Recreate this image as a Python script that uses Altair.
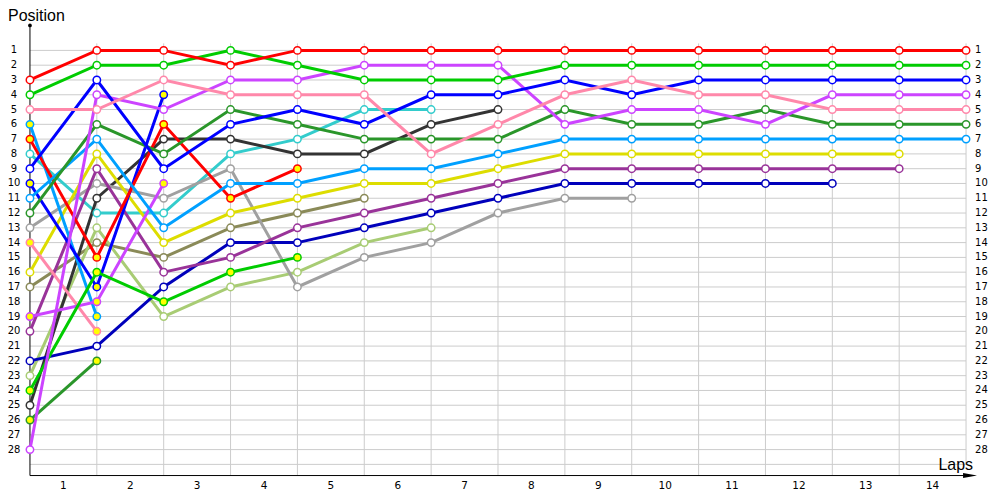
import altair as alt
import pandas as pd

# ---- data (positions from the start, lap 0, onwards) ----
lap_labels = [str(i) for i in range(1, 15)]
position_labels = list(range(1, 29))

red_a = [3, 1, 1, 2, 1, 1, 1, 1, 1, 1, 1, 1, 1, 1, 1]
green_a = [4, 2, 2, 1, 2, 3, 3, 3, 2, 2, 2, 2, 2, 2, 2]
pink_a = [5, 5, 3, 4, 4, 4, 8, 6, 4, 3, 4, 4, 5, 5, 5]
blue_a = [9, 3, 9, 6, 5, 6, 4, 4, 3, 4, 3, 3, 3, 3, 3]
magenta_a = [28, 4, 5, 3, 3, 2, 2, 2, 6, 5, 5, 6, 4, 4, 4]
darkgreen_a = [12, 6, 8, 5, 6, 7, 7, 7, 5, 6, 6, 5, 6, 6, 6]
lightblue_a = [11, 7, 13, 10, 10, 9, 9, 8, 7, 7, 7, 7, 7, 7, 7]
yellow_a = [16, 8, 14, 12, 11, 10, 10, 9, 8, 8, 8, 8, 8, 8]
purple_a = [20, 9, 16, 15, 13, 12, 11, 10, 9, 9, 9, 9, 9, 9]
navy_a = [22, 21, 17, 14, 14, 13, 12, 11, 10, 10, 10, 10, 10]
gray_a = [13, 10, 11, 9, 17, 15, 14, 12, 11, 11]
black_a = [25, 11, 7, 7, 8, 8, 6, 5]
teal_a = [8, 12, 12, 8, 7, 5, 5]
lightgreen_a = [23, 13, 19, 17, 16, 14, 13]
olive_a = [17, 14, 15, 13, 12, 11]
red_b = [7, 15, 6, 11, 9]
green_b = [24, 16, 18, 16, 15]
blue_b = [10, 17, 4]
magenta_b = [19, 18, 10]
lightblue_b = [6, 19]
pink_b = [14, 20]
darkgreen_b = [26, 22]

drivers = [
    ("olive_a", olive_a, "#8a8a58", "hollow"),
    ("lightgreen_a", lightgreen_a, "#a8cc74", "hollow"),
    ("teal_a", teal_a, "#33cccc", "hollow"),
    ("black_a", black_a, "#333333", "hollow"),
    ("gray_a", gray_a, "#a0a0a0", "hollow"),
    ("navy_a", navy_a, "#0000bb", "hollow"),
    ("purple_a", purple_a, "#993399", "hollow"),
    ("yellow_a", yellow_a, "#dddd00", "hollow"),
    ("darkgreen_b", darkgreen_b, "#2a962a", "yellow"),
    ("pink_b", pink_b, "#ff88aa", "yellow"),
    ("lightblue_b", lightblue_b, "#00a0ff", "yellow"),
    ("magenta_b", magenta_b, "#cc44ff", "yellow"),
    ("blue_b", blue_b, "#0000ff", "yellow"),
    ("green_b", green_b, "#00cc00", "yellow"),
    ("red_b", red_b, "#ff0000", "yellow"),
    ("lightblue_a", lightblue_a, "#00a0ff", "hollow"),
    ("darkgreen_a", darkgreen_a, "#2a962a", "hollow"),
    ("magenta_a", magenta_a, "#cc44ff", "hollow"),
    ("blue_a", blue_a, "#0000ff", "hollow"),
    ("pink_a", pink_a, "#ff88aa", "hollow"),
    ("green_a", green_a, "#00cc00", "hollow"),
    ("red_a", red_a, "#ff0000", "hollow"),
]

rows = []
for k, (name, pos, col, mk) in enumerate(drivers):
    for lap, p in enumerate(pos):
        rows.append({"driver": name, "lap": lap, "pos": p, "marker": mk, "k": k})
df = pd.DataFrame(rows)
names = [d[0] for d in drivers]
colors = [d[2] for d in drivers]

xs = alt.Scale(domain=[0, 14], range=[0, 938], nice=False, zero=False)
ys = alt.Scale(domain=[1, 28], range=[25, 425], nice=False, zero=False)
GRID = "#cccccc"
FONT = "DejaVu Sans"

one = pd.DataFrame({"a": [0]})

hgrid = alt.Chart(pd.DataFrame({"p": list(range(1, 30))})).mark_rule(
    color=GRID, strokeWidth=1).encode(
    y=alt.Y("p:Q", scale=ys, axis=None), x=alt.value(0), x2=alt.value(938))

vgrid = alt.Chart(pd.DataFrame({"lap": list(range(1, 14))})).mark_rule(
    color=GRID, strokeWidth=1).encode(
    x=alt.X("lap:Q", scale=xs, axis=None), y=alt.value(18), y2=alt.value(451))

vgrid_last = alt.Chart(pd.DataFrame({"lap": [14]})).mark_rule(
    color=GRID, strokeWidth=1).encode(
    x=alt.X("lap:Q", scale=xs, axis=None), y=alt.value(18), y2=alt.value(440))

yaxis_line = alt.Chart(one).mark_rule(color="black", strokeWidth=1).encode(
    x=alt.value(0), y=alt.value(0), y2=alt.value(451))
xaxis_line = alt.Chart(one).mark_rule(color="black", strokeWidth=1).encode(
    x=alt.value(0), x2=alt.value(944), y=alt.value(451))
arrow = alt.Chart(one).mark_point(
    shape="M -1 -0.35 L 1 0 L -1 0.35 Z", filled=True, color="black", size=196, opacity=1
).encode(x=alt.value(942), y=alt.value(451))
topdot = alt.Chart(one).mark_point(
    shape="circle", filled=True, color="black", size=14, opacity=1
).encode(x=alt.value(0), y=alt.value(0))

lines = alt.Chart(df).mark_line(strokeWidth=3).encode(
    x=alt.X("lap:Q", scale=xs, axis=None),
    y=alt.Y("pos:Q", scale=ys, axis=None),
    color=alt.Color("driver:N", scale=alt.Scale(domain=names, range=colors), legend=None),
    detail="driver:N",
    order="lap:Q",
)

points = alt.Chart(df).mark_point(
    shape="circle", filled=True, size=55, strokeWidth=1.5, opacity=1
).encode(
    x=alt.X("lap:Q", scale=xs, axis=None),
    y=alt.Y("pos:Q", scale=ys, axis=None),
    fill=alt.Fill("marker:N", scale=alt.Scale(domain=["hollow", "yellow"],
                                              range=["#ffffff", "#ffff00"]), legend=None),
    stroke=alt.Stroke("driver:N", scale=alt.Scale(domain=names, range=colors), legend=None),
    order="k:Q",
)

pos_df = pd.DataFrame({"p": position_labels})
left_labels = alt.Chart(pos_df).mark_text(
    align="center", baseline="middle", fontSize=10, font=FONT, color="black"
).encode(y=alt.Y("p:Q", scale=ys, axis=None), x=alt.value(-16), text="p:Q")
right_labels = alt.Chart(pos_df).mark_text(
    align="left", baseline="middle", fontSize=10, font=FONT, color="black"
).encode(y=alt.Y("p:Q", scale=ys, axis=None), x=alt.value(947), text="p:Q")

lap_df = pd.DataFrame({"label": lap_labels, "mid": [i - 0.5 for i in range(1, 15)]})
lap_text = alt.Chart(lap_df).mark_text(
    align="center", baseline="alphabetic", fontSize=10.5, font=FONT, color="black"
).encode(x=alt.X("mid:Q", scale=xs, axis=None), y=alt.value(464), text="label:N")

title_pos = alt.Chart(pd.DataFrame({"t": ["Position"]})).mark_text(
    align="left", baseline="alphabetic", fontSize=16, font="Liberation Sans", color="black"
).encode(x=alt.value(-22), y=alt.value(-4), text="t:N")
title_laps = alt.Chart(pd.DataFrame({"t": ["Laps"]})).mark_text(
    align="right", baseline="alphabetic", fontSize=16, font="Liberation Sans", color="black"
).encode(x=alt.value(945), y=alt.value(445), text="t:N")

chart = alt.layer(
    hgrid, vgrid, vgrid_last, yaxis_line, xaxis_line, arrow, topdot,
    lines, points, left_labels, right_labels, lap_text, title_pos, title_laps
).properties(
    width=948, height=451,
    autosize=alt.AutoSizeParams(type="none"),
    padding={"left": 22, "top": 17, "right": 16, "bottom": 15},
    background="white",
).configure_view(stroke=None)

chart.save("out.html", embed_options={"renderer": "svg", "actions": False})
